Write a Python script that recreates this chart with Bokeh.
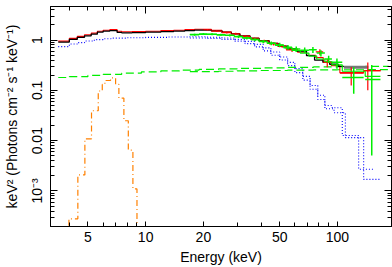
from bokeh.plotting import figure
from bokeh.models import FixedTicker, LogAxis, CustomJSTickFormatter, Range1d
from bokeh.embed import file_html
from bokeh.resources import INLINE

# ---------------- data (keV, keV^2 photons cm^-2 s^-1 keV^-1) ----------------
x_ticks = [5, 10, 20, 50, 100]
x_tick_labels = ["5", "10", "20", "50", "100"]
y_ticks = [0.001, 0.01, 0.1, 1]
y_tick_labels = ["10\u207b\u00b3", "0.01", "0.1", "1"]

# black dataset model (step edges / values)
black_edges = [3.5, 4.0, 4.4, 4.8, 5.2, 5.6, 6.0, 6.5, 7.1, 7.5, 8.5, 10, 12, 14, 16, 18, 20, 22,
               25, 28, 31, 35, 39, 44, 49, 55, 61, 69, 76, 84, 91, 101, 108]
black_model = [0.91, 1.03, 1.13, 1.21, 1.31, 1.43, 1.50, 1.54, 1.42, 1.39, 1.40, 1.43, 1.47, 1.50,
               1.54, 1.57, 1.57, 1.52, 1.42, 1.32, 1.20, 1.08, 0.97, 0.86, 0.76, 0.67, 0.60, 0.49,
               0.40, 0.36, 0.33, 0.30]
black_tail_edges = [108, 145]
black_tail_model = [0.287]

# red dataset model
red_edges = [3.5, 4.0, 4.4, 4.8, 5.2, 5.6, 6.0, 6.5, 7.1, 7.5, 8.5, 10, 12, 14, 16, 18, 20, 22,
             25, 28, 31, 35, 39, 44, 49, 54, 62, 69, 77.1, 84.3, 93, 103, 137, 168]
red_model = [0.95, 1.08, 1.18, 1.27, 1.37, 1.50, 1.57, 1.61, 1.49, 1.46, 1.47, 1.50, 1.54, 1.57,
             1.61, 1.64, 1.63, 1.56, 1.45, 1.34, 1.21, 1.09, 0.97, 0.86, 0.75, 0.66, 0.57, 0.50,
             0.45, 0.37, 0.31, 0.225, 0.245]
# red data crosses
red_lo = [20, 22, 25, 28, 31, 35, 39, 44, 49, 54, 77.1, 84.3, 103, 137]
red_hi = [22, 25, 28, 31, 35, 39, 44, 49, 54, 62, 84.3, 93, 137, 168]
red_e = [21, 23.5, 26.5, 29.5, 33, 37, 41.5, 46.5, 51.5, 58, 81, 88.5, 118, 144]
red_val = [1.60, 1.50, 1.40, 1.33, 1.18, 1.05, 0.95, 0.84, 0.76, 0.64, 0.58, 0.36, 0.22, 0.247]
red_low = [1.55, 1.45, 1.35, 1.27, 1.12, 0.99, 0.89, 0.78, 0.70, 0.58, 0.50, 0.287, 0.125, 0.10]
red_high = [1.65, 1.55, 1.45, 1.39, 1.24, 1.11, 1.01, 0.90, 0.82, 0.70, 0.657, 0.418, 0.287, 0.359]

# green dataset
green_edges = [17, 19, 21, 23.5, 26, 29, 32, 35.5, 39, 43, 47.5, 52.5, 58, 64, 71, 78, 86, 93.6,
               106, 139.6, 167.6]
green_model = [1.29, 1.30, 1.29, 1.27, 1.23, 1.17, 1.10, 1.02, 0.94, 0.86, 0.78, 0.70, 0.62,
               0.55, 0.48, 0.42, 0.37, 0.32, 0.24, 0.19]
green_lo = [17, 19, 21, 23.5, 26, 29, 32, 35.5, 39, 43, 47.5, 52.5, 58, 64, 71, 78, 86, 93.6, 106, 139.6]
green_hi = [19, 21, 23.5, 26, 29, 32, 35.5, 39, 43, 47.5, 52.5, 58, 64, 71, 78, 86, 93.6, 106, 137, 167.6]
green_e = [18, 20, 22.2, 24.7, 27.5, 30.5, 33.7, 37.2, 41, 45.2, 50, 55.2, 61, 67.5, 74.5, 82, 90,
           99.4, 121.6, 151]
green_val = [1.28, 1.32, 1.30, 1.27, 1.24, 1.17, 1.10, 1.02, 0.93, 0.86, 0.80, 0.72, 0.66, 0.63,
             0.64, 0.55, 0.42, 0.36, 0.18, 0.165]
green_low = [1.22, 1.26, 1.24, 1.21, 1.17, 1.10, 1.03, 0.95, 0.86, 0.79, 0.72, 0.64, 0.58, 0.55,
             0.55, 0.47, 0.35, 0.27, 0.086, 0.0051]
green_high = [1.34, 1.38, 1.36, 1.33, 1.31, 1.24, 1.17, 1.09, 1.00, 0.93, 0.88, 0.80, 0.74, 0.71,
              0.73, 0.63, 0.49, 0.43, 0.287, 0.32]

# model components
blue_a_edges = [3.5, 4.0, 4.4, 4.8, 5.4, 6.0, 6.6, 8, 10, 13, 17, 21, 25, 29, 33, 37, 41, 45, 50,
                55, 60, 66, 72, 79, 86, 94, 106, 129, 155]
blue_a = [0.74, 0.835, 0.89, 0.955, 1.02, 1.06, 1.09, 1.11, 1.13, 1.15, 1.16, 1.14, 1.10, 1.03,
          0.94, 0.82, 0.70, 0.58, 0.46, 0.36, 0.27, 0.19, 0.125, 0.08, 0.05, 0.045, 0.0127, 0.0027]
blue_b_edges = [17, 21, 25, 29, 33, 37, 41, 45, 50, 55, 60, 66, 72, 79, 86, 96, 110, 137, 167]
blue_b = [1.10, 1.08, 1.03, 0.95, 0.85, 0.73, 0.61, 0.50, 0.40, 0.31, 0.225, 0.16, 0.105, 0.066,
          0.043, 0.036, 0.0115, 0.0017]

gdash_a_edges = [3.5, 4.0, 5.0, 6.0, 7.5, 9.5, 12, 15, 19, 24, 30, 40, 55, 75, 100, 140, 185]
gdash_a = [0.180, 0.188, 0.198, 0.208, 0.220, 0.232, 0.243, 0.253, 0.262, 0.268, 0.274, 0.280,
           0.286, 0.292, 0.297, 0.300]
gdash_b_edges = [17, 24, 30, 40, 55, 75, 100, 140, 185]
gdash_b = [0.236, 0.240, 0.244, 0.248, 0.252, 0.255, 0.257, 0.258]

orange_edges = [3.6, 3.98, 4.43, 4.82, 5.22, 5.66, 5.94, 6.13, 6.56, 6.97, 7.25, 7.70, 8.12, 8.58,
                9.01, 9.5]
orange_gauss = [5e-5, 2.8e-4, 2.09e-3, 0.0109, 0.0393, 0.097, 0.131, 0.157, 0.177, 0.131, 0.0698,
                0.0249, 0.0065, 1.1e-3, 5e-5]

# ---------------- figure ----------------
FONT = "Liberation Sans"
p = figure(width=392, height=267, x_axis_type="log", y_axis_type="log",
           x_range=Range1d(3.19, 191.4), y_range=Range1d(1.97e-4, 4.64),
           output_backend="svg", toolbar_location=None,
           min_border_left=50, min_border_right=1, min_border_top=6, min_border_bottom=38,
           background_fill_color="white", border_fill_color="white",
           outline_line_color="black")
p.xgrid.visible = False
p.ygrid.visible = False


def step(edges, vals, **kw):
    p.step(x=list(edges), y=list(vals) + [vals[-1]], mode="after", **kw)


def crosses(lo, hi, e, val, low, high, color, lw=1.2):
    p.segment(x0=lo, y0=val, x1=hi, y1=val, line_color=color, line_width=lw)
    p.segment(x0=e, y0=low, x1=e, y1=high, line_color=color, line_width=lw)


# components
step(blue_a_edges, blue_a, line_color="#0000ff", line_dash="1 2", line_width=1.1)
step(blue_b_edges, blue_b, line_color="#0000ff", line_dash="1 2", line_width=1.1)
step(gdash_a_edges, gdash_a, line_color="#00ee00", line_dash="8 4", line_width=1.2)
step(gdash_b_edges, gdash_b, line_color="#00ee00", line_dash="8 4", line_width=1.2)
step(orange_edges, orange_gauss, line_color="#ff8000", line_dash="6 3 1 3", line_width=1.2)

# models and data
step(black_tail_edges, black_tail_model, line_color="#777777", line_width=3)
step(red_edges, red_model, line_color="#ff0000", line_width=1.1)
step(black_edges, black_model, line_color="black", line_width=1.3)
crosses(red_lo, red_hi, red_e, red_val, red_low, red_high, "#ff0000")
step(green_edges, green_model, line_color="#00ee00", line_width=1.2)
crosses(green_lo, green_hi, green_e, green_val, green_low, green_high, "#00ee00", lw=1.5)

# ---------------- axes ----------------
x_minor = [m * 10 ** e for e in (0, 1, 2) for m in range(2, 10) if 3.19 <= m * 10 ** e <= 191.4]
y_minor = [m * 10.0 ** e for e in (-4, -3, -2, -1, 0) for m in range(2, 10)
           if 1.97e-4 <= m * 10.0 ** e <= 4.64]

fmt_code = """
const i = tvals.findIndex(t => Math.abs(Math.log10(t) - Math.log10(tick)) < 1e-6);
return i >= 0 ? tlabels[i] : "";
"""
blank_code = "return '';"


def style(ax, major_in, labels=True):
    ax.major_tick_in = major_in
    ax.major_tick_out = 0
    ax.minor_tick_in = 4
    ax.minor_tick_out = 0
    ax.axis_line_color = "black"
    ax.major_tick_line_color = "black"
    ax.minor_tick_line_color = "black"
    ax.major_label_text_font = FONT
    ax.major_label_text_color = "black"
    ax.axis_label_text_font = FONT
    ax.axis_label_text_font_style = "normal"
    ax.axis_label_text_color = "black"
    if not labels:
        ax.formatter = CustomJSTickFormatter(code=blank_code)
        ax.major_label_text_font_size = "1px"
        ax.major_label_standoff = 0


xa = p.xaxis[0]
xa.ticker = FixedTicker(ticks=x_ticks, minor_ticks=x_minor)
xa.formatter = CustomJSTickFormatter(args=dict(tvals=x_ticks, tlabels=x_tick_labels), code=fmt_code)
style(xa, 5)
xa.major_label_text_font_size = "14px"
xa.major_label_standoff = 5
xa.axis_label = "Energy (keV)"
xa.axis_label_text_font_size = "14px"
xa.axis_label_standoff = 4

ya = p.yaxis[0]
ya.ticker = FixedTicker(ticks=y_ticks, minor_ticks=y_minor)
ya.formatter = CustomJSTickFormatter(args=dict(tvals=y_ticks, tlabels=y_tick_labels), code=fmt_code)
style(ya, 7)
ya.major_label_text_font_size = "14px"
ya.major_label_orientation = "vertical"
ya.major_label_standoff = 5
ya.axis_label = "keV\u00b2 (Photons cm\u207b\u00b2 s\u207b\u00b9 keV\u207b\u00b9)"
ya.axis_label_text_font_size = "14px"
ya.axis_label_standoff = 7

top = LogAxis(ticker=FixedTicker(ticks=[10, 100], minor_ticks=x_minor))
style(top, 7, labels=False)
p.add_layout(top, "above")

right = LogAxis(ticker=FixedTicker(ticks=y_ticks, minor_ticks=y_minor))
style(right, 7, labels=False)
p.add_layout(right, "right")

open("out.html", "w").write(file_html(p, INLINE))
